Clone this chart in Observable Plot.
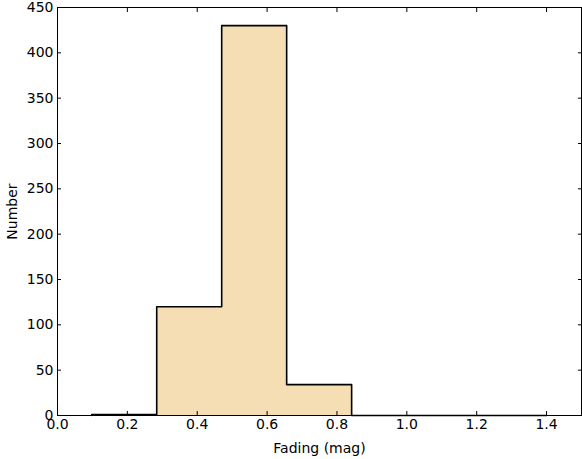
<!DOCTYPE html>
<html>
<head>
<meta charset="utf-8">
<script src="https://cdn.jsdelivr.net/npm/d3@7"></script>
<script src="https://cdn.jsdelivr.net/npm/@observablehq/plot@0.6"></script>
<style>
  html, body { margin: 0; padding: 0; background: #fff; }
  #chart svg { display: block; }
</style>
</head>
<body>
<div id="chart"></div>
<script>
// Histogram bins (fading in mag) and counts
const binStart = [0.098, 0.284, 0.470, 0.656, 0.842, 1.027, 1.213];
const binEnd   = [0.284, 0.470, 0.656, 0.842, 1.027, 1.213, 1.400];
const counts   = [1, 120, 430, 34, 0, 0, 0];
const xTicks = [0.0, 0.2, 0.4, 0.6, 0.8, 1.0, 1.2, 1.4];
const yTicks = [0, 50, 100, 150, 200, 250, 300, 350, 400, 450];

const bins = binStart.map((s, i) => ({x1: s, x2: binEnd[i], y: counts[i]}));
// step outline of the histogram
const outline = [{x: binStart[0], y: 0}];
bins.forEach(b => { outline.push({x: b.x1, y: b.y}); outline.push({x: b.x2, y: b.y}); });
outline.push({x: binEnd[binEnd.length - 1], y: 0});

const font = "DejaVu Sans, sans-serif";
const chart = Plot.plot({
  width: 582,
  height: 459,
  marginLeft: 57,
  marginRight: 1,
  marginTop: 7,
  marginBottom: 44,
  style: {fontFamily: font, fontSize: "14px", color: "black", background: "white"},
  x: {domain: [0, 1.5]},
  y: {domain: [0, 450]},
  marks: [
    Plot.areaY(outline, {x: "x", y1: 0, y2: "y", fill: "#f5deb3"}),
    Plot.line(outline, {x: "x", y: "y", stroke: "black", strokeWidth: 1.6}),
    Plot.frame({stroke: "black", strokeWidth: 1}),
    // labels
    Plot.axisX({ticks: xTicks, tickSize: 0, tickPadding: 4, tickFormat: d3.format(".1f"), label: "Fading (mag)", labelAnchor: "center", labelArrow: "none", labelOffset: 37, fontSize: 14}),
    Plot.axisY({ticks: yTicks, tickSize: 0, tickPadding: 4, label: "Number", labelAnchor: "center", labelArrow: "none", labelOffset: 50, fontSize: 14}),
    // inward ticks on all sides
    Plot.axisX({ticks: xTicks, tickSize: -4, text: null, label: null, stroke: "black"}),
    Plot.axisX({ticks: xTicks, anchor: "top", tickSize: -4, text: null, label: null, stroke: "black"}),
    Plot.axisY({ticks: yTicks, tickSize: -4, text: null, label: null, stroke: "black"}),
    Plot.axisY({ticks: yTicks, anchor: "right", tickSize: -4, text: null, label: null, stroke: "black"})
  ]
});
document.getElementById("chart").appendChild(chart);
</script>
</body>
</html>
